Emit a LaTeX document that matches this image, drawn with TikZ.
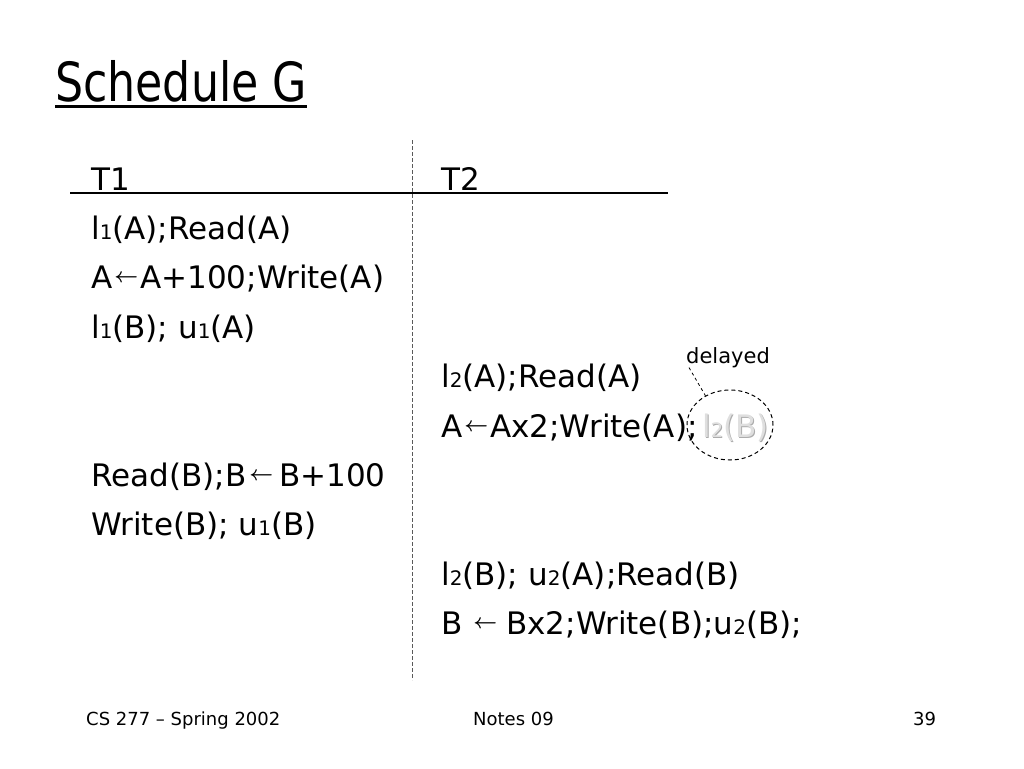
\documentclass[tikz,border=0pt]{standalone}
\usepackage{fontspec}
\setmainfont{DejaVu Sans}
\newfontfamily\titlefont{DejaVu Sans}[FakeStretch=0.82]
\usetikzlibrary{shapes.geometric, positioning}

\newcommand{\lockno}[1]{{\fontsize{20}{20}\selectfont #1}}
\newcommand{\getsto}{\raisebox{6pt}{\fontsize{20}{20}\selectfont\boldmath$\leftarrow$}}

\begin{document}
\begin{tikzpicture}[x=1pt, y=-1pt,
  every node/.style={inner sep=0pt, anchor=base west},
  rowtext/.style={font=\fontsize{31}{36}\selectfont},
  foottext/.style={font=\fontsize{18}{22}\selectfont},
  sepline/.style={dash pattern=on 4pt off 2pt, line width=1pt, black!65}]
% Define constants
\def\rowgap{49.4}
\def\leftX{91}
\def\rightX{441}
\def\headY{190}

\useasboundingbox (0,0) rectangle (1024,768);

% Title
\node[font=\titlefont\fontsize{54}{60}\selectfont] (title) at (55,101) {Schedule G};
\draw[line width=3pt] ([yshift=-5pt]title.base west) -- ([yshift=-5pt]title.base east);

% Column heads and rules
\node[rowtext] (head1) at (\leftX,\headY) {T1};
\node[rowtext] (head2) at (\rightX,\headY) {T2};
\coordinate (ruleL) at (70,193);
\coordinate (ruleR) at (668,193);
\coordinate (sepTop) at (412,140);
\coordinate (sepBot) at (412,680);
\draw[line width=1.2pt] (ruleL) -- (ruleR);
\draw[sepline] (sepTop) -- (sepBot);

% T1 steps
\node[rowtext] (t1a) at (\leftX,{\headY+1*\rowgap}) {l\lockno{1}(A);Read(A)};
\node[rowtext] (t1b) at (\leftX,{\headY+2*\rowgap}) {A\kern2pt\getsto\kern2pt A+100;Write(A)};
\node[rowtext] (t1c) at (\leftX,{\headY+3*\rowgap}) {l\lockno{1}(B); u\lockno{1}(A)};
\node[rowtext] (t1d) at (\leftX,{\headY+6*\rowgap}) {Read(B);B\kern3pt\getsto\kern6pt B+100};
\node[rowtext] (t1e) at (\leftX,{\headY+7*\rowgap}) {Write(B); u\lockno{1}(B)};

% T2 steps
\node[rowtext] (t2a) at (\rightX,{\headY+4*\rowgap}) {l\lockno{2}(A);Read(A)};
\node[rowtext] (t2b) at (\rightX,{\headY+5*\rowgap}) {A\kern2pt\getsto\kern2pt Ax2;Write(A);};
\node[rowtext] (t2c) at (\rightX,{\headY+8*\rowgap}) {l\lockno{2}(B); u\lockno{2}(A);Read(B)};
\node[rowtext] (t2d) at (\rightX,{\headY+9*\rowgap}) {B\kern11pt\getsto\kern9pt Bx2;Write(B);u\lockno{2}(B);};

% Delayed lock request
\node[rowtext, text=gray!65] (lockshadow) at ([xshift=5pt,yshift=-1pt]t2b.base east) {l\lockno{2}(B)};
\node[rowtext, text=gray!25] (lockb) at ([xshift=4pt]t2b.base east) {l\lockno{2}(B)};
\node[ellipse, draw, dash pattern=on 4pt off 3pt, line width=1pt, minimum width=86pt, minimum height=70pt, anchor=center] (delaybox) at (730,425) {};
\node[font=\fontsize{21}{24}\selectfont] (delayed) at (686,363) {delayed};
\draw[dash pattern=on 3pt off 3pt, line width=0.8pt] ([xshift=3pt]delayed.south west) -- (delaybox.130);

% Footer
\node[foottext] (course) at (86,725) {CS 277 – Spring 2002};
\node[foottext] (notes) at (473,725) {Notes 09};
\node[foottext] (page) at (913,725) {39};

\end{tikzpicture}
\end{document}
